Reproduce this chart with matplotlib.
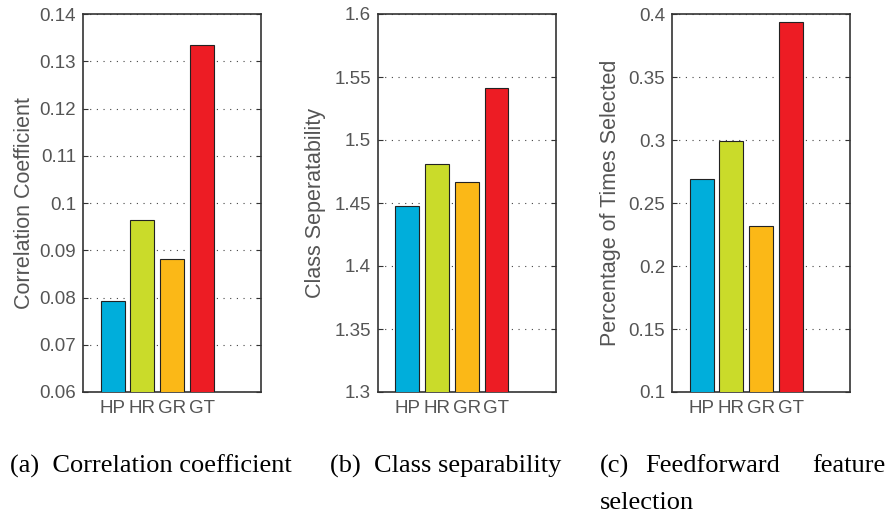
import numpy as np
import matplotlib.pyplot as plt

# Data
methods = ['HP', 'HR', 'GR', 'GT']
colors = ['#00AEDB', '#CADB2A', '#FBB817', '#ED1C24']

corr_coef = [0.0793, 0.0964, 0.0882, 0.1334]
class_sep = [1.448, 1.4812, 1.4667, 1.5415]
pct_selected = [0.2693, 0.299, 0.2315, 0.3939]

ylabels = ['Correlation Coefficient', 'Class Seperatability', 'Percentage of Times Selected']
ylims = [(0.06, 0.14), (1.3, 1.6), (0.1, 0.4)]
yticks = [np.arange(0.06, 0.1401, 0.01), np.arange(1.3, 1.6001, 0.05), np.arange(0.1, 0.4001, 0.05)]
yticklabels = [['0.06', '0.07', '0.08', '0.09', '0.1', '0.11', '0.12', '0.13', '0.14'],
               ['1.3', '1.35', '1.4', '1.45', '1.5', '1.55', '1.6'],
               ['0.1', '0.15', '0.2', '0.25', '0.3', '0.35', '0.4']]

W, H = 887, 521
fig = plt.figure(figsize=(W / 100, H / 100), dpi=100)
plt.rcParams['font.family'] = ['Liberation Sans', 'DejaVu Sans']

txt = '#555555'
lefts = [83, 377.7, 672]
ax_w, ax_top, ax_bot = 178, 14, 392
# right edge of each rotated y label, in pixels
ylab_x = [35, 326, 621]

for i, vals in enumerate([corr_coef, class_sep, pct_selected]):
    ax = fig.add_axes([lefts[i] / W, 1 - ax_bot / H, ax_w / W, (ax_bot - ax_top) / H])
    x = np.arange(1, 5)
    ax.bar(x, vals, width=0.8, color=colors, edgecolor='#222222', linewidth=0.8, zorder=3)
    ax.set_xlim(0, 6)
    ax.set_ylim(*ylims[i])
    ax.set_xticks(x)
    ax.set_xticklabels(methods, fontsize=13.5, color=txt)
    ax.set_yticks(yticks[i])
    ax.set_yticklabels(yticklabels[i], fontsize=13.5, color=txt)
    ax.tick_params(axis='x', length=0, pad=6)
    ax.tick_params(axis='y', direction='in', length=3.5, right=True, width=0.8, color='#333333', pad=5)
    ax.yaxis.grid(True, linestyle=(0, (1, 5)), color='#444444', linewidth=0.8, zorder=0)
    for s in ax.spines.values():
        s.set_color('#333333')
        s.set_linewidth(1.2)
    ax.set_ylabel(ylabels[i], fontsize=15.5, color=txt)
    ax.yaxis.set_label_coords((ylab_x[i] - lefts[i]) / ax_w, 0.5)

serif = ['Liberation Serif', 'DejaVu Serif']
cap = 19
fig.text(10 / W, 1 - 466 / H, '(a)  Correlation coefficient', fontsize=cap, family=serif, va='center')
fig.text(330 / W, 1 - 466 / H, '(b)  Class separability', fontsize=cap, family=serif, va='center')
fig.text(600 / W, 1 - 466 / H, '(c)', fontsize=cap, family=serif, va='center')
fig.text(645 / W, 1 - 466 / H, 'Feedforward', fontsize=cap, family=serif, va='center')
fig.text(885 / W, 1 - 466 / H, 'feature', fontsize=cap, family=serif, va='center', ha='right')
fig.text(600 / W, 1 - 503 / H, 'selection', fontsize=cap, family=serif, va='center')

fig.savefig('out.png', dpi=100)
